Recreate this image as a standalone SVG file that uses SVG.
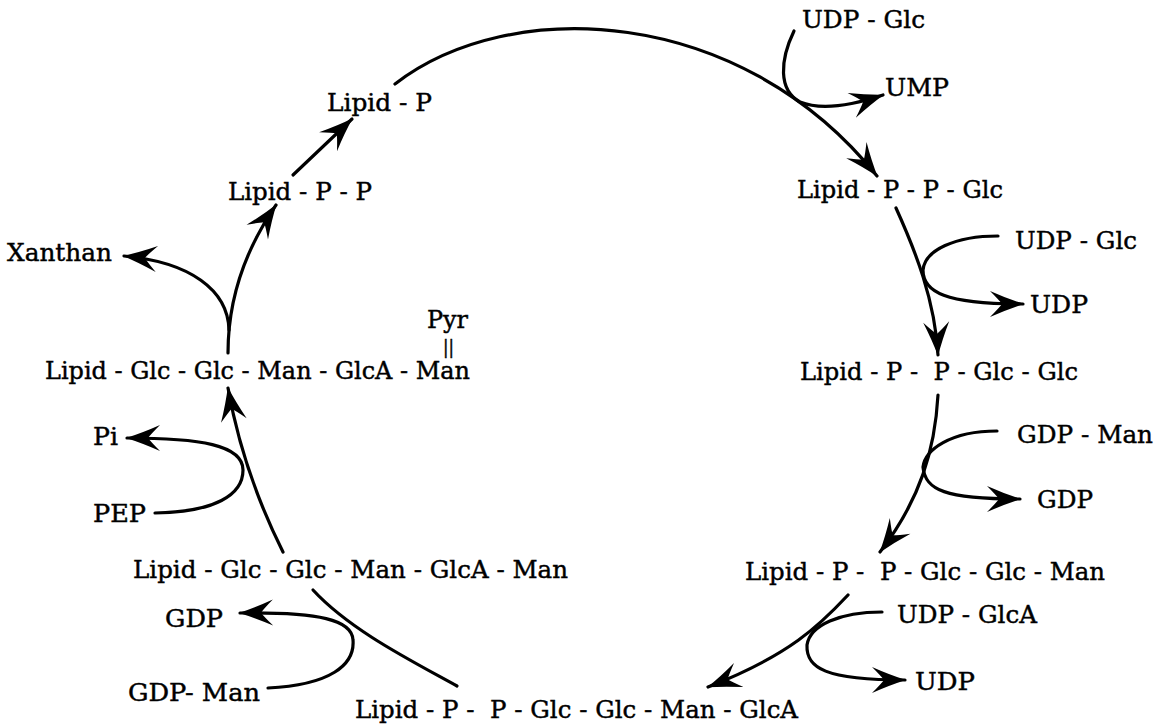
<svg xmlns="http://www.w3.org/2000/svg" width="1174" height="727" viewBox="0 0 1174 727">
<style>
text{font-family:"DejaVu Serif","Liberation Serif",serif;font-size:25px;fill:#000;stroke:#000;stroke-width:0.45}
.c{fill:none;stroke:#000;stroke-width:3.2;stroke-linecap:round}
.a{marker-end:url(#ah)}
</style>
<defs>
<marker id="ah" markerUnits="userSpaceOnUse" viewBox="-36 -15 38 30" markerWidth="38" markerHeight="30" refX="0" refY="0" orient="auto">
<path d="M1,0 Q-15,-5 -33,-13 Q-24,-4 -21,0 Q-24,4 -33,13 Q-15,5 1,0 Z" fill="#000"/>
</marker>
</defs>
<rect width="1174" height="727" fill="#fff"/>
<g id="connectors">
<path class="c a" d="M395,84 C510,-5 740,5 877,176"/>
<path class="c a" d="M794,31 C780,60 778,90 800,102 C820,110 850,106 883,95"/>
<path class="c a" d="M896,208 C915,250 935,300 938,355"/>
<path class="c a" d="M998,236 C955,236 925,250 923,270 C923,292 945,304 1023,304"/>
<path class="c a" d="M938,395 C935,450 920,500 880,552"/>
<path class="c a" d="M997,431 C950,431 925,450 923,467 C925,490 945,499 1020,499"/>
<path class="c a" d="M848,595 C820,625 790,655 708,687"/>
<path class="c a" d="M882,612 C840,612 810,625 807,645 C806,668 825,680 905,680"/>
<path class="c" d="M457,686 C410,660 350,630 313,590"/>
<path class="c a" d="M268,688 C330,685 355,665 353,640 C352,620 320,612 240,613"/>
<path class="c a" d="M283,552 C262,510 240,455 228,388"/>
<path class="c a" d="M155,513 C215,512 243,495 243,470 C243,445 200,438 127,438"/>
<path class="c a" d="M228,353 C228,300 245,250 276,205"/>
<path class="c a" d="M229,330 C228,290 190,262 124,256"/>
<path class="c a" d="M293,175 L352,119"/>
</g>
<g id="udpglc1"><text x="802" y="28" textLength="123" lengthAdjust="spacingAndGlyphs">UDP - Glc</text></g>
<g id="ump"><text x="885" y="96" textLength="64" lengthAdjust="spacingAndGlyphs">UMP</text></g>
<g id="lipidP"><text x="327" y="111" textLength="105" lengthAdjust="spacingAndGlyphs">Lipid - P</text></g>
<g id="lipidPP"><text x="228" y="200" textLength="144" lengthAdjust="spacingAndGlyphs">Lipid - P - P</text></g>
<g id="lipidPPGlc"><text x="797" y="198" textLength="206" lengthAdjust="spacingAndGlyphs">Lipid - P - P - Glc</text></g>
<g id="xanthan"><text x="7" y="261" textLength="105" lengthAdjust="spacingAndGlyphs">Xanthan</text></g>
<g id="udpglc2"><text x="1015" y="249" textLength="122" lengthAdjust="spacingAndGlyphs">UDP - Glc</text></g>
<g id="udp1"><text x="1030" y="313" textLength="58" lengthAdjust="spacingAndGlyphs">UDP</text></g>
<g id="pyr"><text x="427" y="328" textLength="41" lengthAdjust="spacingAndGlyphs">Pyr</text><text x="443" y="353" style="font-size:18px" textLength="11" lengthAdjust="spacingAndGlyphs">||</text></g>
<g id="lipidPyr"><text x="45" y="379" textLength="425" lengthAdjust="spacingAndGlyphs">Lipid - Glc - Glc - Man - GlcA - Man</text></g>
<g id="lipidPPGlcGlc"><text x="800" y="380" textLength="278" lengthAdjust="spacingAndGlyphs" xml:space="preserve">Lipid - P -  P - Glc - Glc</text></g>
<g id="pi"><text x="93" y="445" textLength="25" lengthAdjust="spacingAndGlyphs">Pi</text></g>
<g id="gdpman1"><text x="1017" y="443" textLength="136" lengthAdjust="spacingAndGlyphs">GDP - Man</text></g>
<g id="gdp1"><text x="1037" y="508" textLength="56" lengthAdjust="spacingAndGlyphs">GDP</text></g>
<g id="pep"><text x="93" y="522" textLength="53" lengthAdjust="spacingAndGlyphs">PEP</text></g>
<g id="lipidPenta"><text x="133" y="578" textLength="435" lengthAdjust="spacingAndGlyphs">Lipid - Glc - Glc - Man - GlcA - Man</text></g>
<g id="lipidPPGlcGlcMan"><text x="745" y="580" textLength="360" lengthAdjust="spacingAndGlyphs" xml:space="preserve">Lipid - P -  P - Glc - Glc - Man</text></g>
<g id="udpglca"><text x="897" y="623" textLength="140" lengthAdjust="spacingAndGlyphs">UDP - GlcA</text></g>
<g id="gdp2"><text x="165" y="627" textLength="58" lengthAdjust="spacingAndGlyphs">GDP</text></g>
<g id="udp2"><text x="915" y="690" textLength="60" lengthAdjust="spacingAndGlyphs">UDP</text></g>
<g id="gdpman2"><text x="128" y="701" textLength="132" lengthAdjust="spacingAndGlyphs">GDP- Man</text></g>
<g id="lipidTetra"><text x="355" y="718" textLength="443" lengthAdjust="spacingAndGlyphs" xml:space="preserve">Lipid - P -  P - Glc - Glc - Man - GlcA</text></g>
</svg>
